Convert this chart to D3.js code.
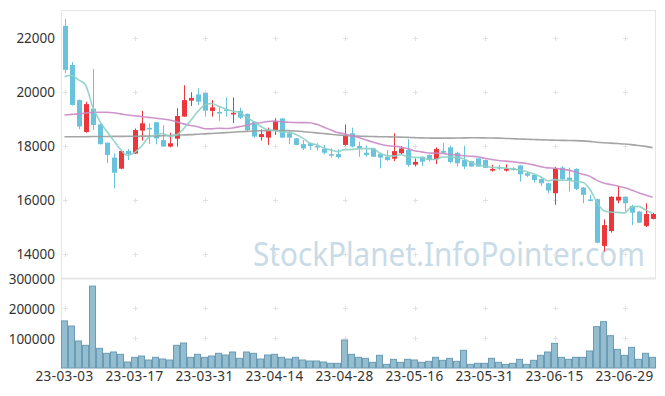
<!DOCTYPE html>
<html>
<head>
<meta charset="utf-8">
<script src="https://cdn.jsdelivr.net/npm/d3@7"></script>
<style>
  body { margin: 0; background: #fff; }
  .lbl { font-family: "Noto Sans", "DejaVu Sans", sans-serif; font-size: 13.5px; fill: #333; }
</style>
</head>
<body>
<div id="chart"></div>
<script>
// trading days, yy-mm-dd
const dates = [
  "23-03-03","23-03-06","23-03-07","23-03-08","23-03-09","23-03-10","23-03-13","23-03-14","23-03-15","23-03-16",
  "23-03-17","23-03-20","23-03-21","23-03-22","23-03-23","23-03-24","23-03-27","23-03-28","23-03-29","23-03-30",
  "23-03-31","23-04-03","23-04-04","23-04-05","23-04-06","23-04-07","23-04-10","23-04-11","23-04-12","23-04-13",
  "23-04-14","23-04-17","23-04-18","23-04-19","23-04-20","23-04-21","23-04-24","23-04-25","23-04-26","23-04-27",
  "23-04-28","23-05-02","23-05-03","23-05-04","23-05-08","23-05-09","23-05-10","23-05-11","23-05-12","23-05-15",
  "23-05-16","23-05-17","23-05-18","23-05-19","23-05-22","23-05-23","23-05-24","23-05-25","23-05-26","23-05-30",
  "23-05-31","23-06-01","23-06-02","23-06-05","23-06-07","23-06-08","23-06-09","23-06-12","23-06-13","23-06-14",
  "23-06-15","23-06-16","23-06-19","23-06-20","23-06-21","23-06-22","23-06-23","23-06-26","23-06-27","23-06-28",
  "23-06-29","23-06-30","23-07-03","23-07-04","23-07-05"
];

const opens = [
  22450,21000,19700,18520,19380,18800,18120,17570,17160,17820,
  17720,18570,18670,18880,18220,17980,18270,19090,19680,19910,
  19960,19300,19260,19350,19170,19300,19190,18900,18330,18310,
  18570,19020,18470,18280,18070,18100,18000,17890,17700,17700,
  18040,18470,18000,17750,17910,17700,17600,17530,17730,17850,
  17310,17600,17670,17510,17820,17950,17750,17480,17440,17540,
  17480,17090,17220,17090,17170,17280,16990,16930,16780,16620,
  16250,17200,16830,17150,16460,16020,16030,14300,14850,15980,
  16120,15780,15570,15040,15300
];
const highs = [
  22700,21110,19720,19640,20850,18820,18130,17730,17830,17890,
  18650,19300,18840,18890,18770,18490,19400,20250,19990,20140,
  19980,19700,19480,19800,19800,19420,19200,18920,18620,18680,
  19030,19030,18550,18300,18220,18130,18100,18040,17910,17880,
  18800,18680,18160,18020,17930,17720,17850,18470,18000,18250,
  17540,17620,17690,17950,18120,18010,17790,18010,17450,17560,
  17500,17300,17300,17320,17220,17300,17050,16950,16800,16640,
  17230,17260,17200,17170,16480,16190,16050,15280,16140,16520,
  16140,15820,15590,15880,15530
];
const lows = [
  20700,19500,18620,18490,18590,18050,17360,16430,17140,17480,
  17700,18200,18070,18060,17970,17950,17980,19080,19480,19520,
  19090,19090,18930,19090,18850,19000,18530,18300,18200,18040,
  18410,18300,18070,18030,17850,17850,17830,17690,17570,17530,
  18010,17950,17600,17600,17590,17170,17450,17440,17700,17230,
  17240,17260,17420,17330,17740,17360,17240,17150,17230,17230,
  17180,17050,17110,17050,17080,16680,16850,16640,16520,16250,
  15820,16750,16310,16370,15880,15950,14400,14090,14790,15880,
  15570,15070,15150,15000,15280
];
const closes = [
  20820,19520,18720,19550,18780,18070,17670,17010,17815,17700,
  18590,18840,18620,18280,17980,18100,19110,19700,19780,19640,
  19310,19430,19200,19300,19230,19050,18590,18350,18440,18570,
  18930,18310,18310,18040,17910,18000,17950,17750,17660,17590,
  18370,17980,17900,17670,17600,17570,17480,17810,17910,17300,
  17410,17420,17480,17890,17750,17410,17360,17240,17240,17240,
  17190,17150,17170,17150,17110,16950,16900,16740,16620,16350,
  17170,16770,16740,16410,16190,15980,14420,15070,16120,16120,
  15880,15530,15160,15480,15480
];
const volumes = [
  157000,140000,90000,75600,273000,65500,49000,53300,45600,20000,
  35600,40000,26700,35600,30000,26700,75600,83300,35600,45600,
  35600,40000,49000,43300,53300,32200,53300,49000,30000,43300,
  45600,35600,30000,35600,26700,23300,23300,20000,15600,15600,
  93300,45600,35600,32200,18900,42200,12200,28900,18900,28900,
  26700,18900,22200,35600,25600,32200,22200,58900,12200,15600,
  15600,32200,18900,12200,15600,28900,12200,25600,42200,53300,
  82200,35600,28900,35600,35600,56700,137800,154400,107800,62200,
  42200,68900,28900,49000,35600
];
const ma5 = [
  20570,20620,20450,20260,19478,18928,18558,18216,17869,17653,
  17757,17991,18313,18406,18462,18364,18418,18634,18934,19266,
  19508,19572,19472,19376,19294,19242,19074,18904,18732,18600,
  18576,18520,18512,18432,18300,18114,18042,17930,17854,17790,
  17864,17870,17900,17902,17904,17744,17644,17626,17674,17614,
  17582,17570,17504,17500,17590,17590,17578,17530,17400,17298,
  17254,17212,17198,17180,17154,17106,17056,16970,16864,16712,
  16756,16730,16730,16688,16656,16418,15948,15614,15556,15542,
  15522,15744,15762,15634,15506
];
const ma20 = [
  19150,19170,19190,19220,19240,19250,19250,19230,19190,19150,
  19120,19090,19060,19030,19000,18960,18900,18820,18760,18715,
  18639,18635,18659,18646,18669,18718,18764,18831,18862,18906,
  18923,18896,18881,18869,18865,18860,18802,18705,18599,18496,
  18449,18377,18312,18230,18149,18075,18019,17992,17966,17902,
  17826,17782,17740,17733,17725,17695,17666,17640,17619,17602,
  17543,17501,17465,17439,17414,17383,17354,17301,17236,17189,
  17177,17144,17107,17033,16955,16884,16737,16628,16572,16516,
  16451,16371,16270,16187,16105
];
const ma60 = [
  18340,18340,18345,18345,18350,18350,18350,18355,18355,18360,
  18360,18365,18365,18370,18380,18390,18400,18410,18420,18435,
  18450,18465,18480,18495,18510,18525,18540,18555,18565,18570,
  18575,18575,18570,18555,18535,18510,18485,18460,18435,18410,
  18390,18375,18365,18355,18350,18345,18340,18335,18330,18320,
  18310,18300,18295,18290,18290,18290,18295,18300,18305,18305,
  18300,18295,18290,18280,18270,18260,18250,18240,18230,18220,
  18215,18210,18205,18200,18190,18170,18140,18120,18105,18090,
  18075,18050,18020,17985,17940
];
const priceTicks = [14000, 16000, 18000, 20000, 22000];
const volumeTicks = [100000, 200000, 300000];
const dateTicks = dates.filter((d, i) => i % 10 === 0);

const WIDTH = 665;
const HEIGHT = 396;
const PLOT = {left: 61, right: 656, top: 10, mid: 278, bottom: 368};

const UP = "#eb373c";
const DOWN = "#69c3dc";

const svg = d3.select("#chart")
  .append("svg")
    .attr("width", WIDTH)
    .attr("height", HEIGHT);

const X = d3.scaleBand()
  .domain(dates)
  .range([PLOT.left, PLOT.right]);
const cx = (d) => X(d) + X.bandwidth() / 2;

const Y = d3.scaleLinear()
  .domain([13111, 23037])
  .range([PLOT.mid, PLOT.top]);

const YV = d3.scaleLinear()
  .domain([0, 300000])
  .range([PLOT.bottom, PLOT.mid]);

// watermark
svg.append("text")
  .attr("x", 253)
  .attr("y", 266)
  .attr("textLength", 392)
  .attr("lengthAdjust", "spacingAndGlyphs")
  .attr("font-family", "'Noto Sans', sans-serif")
  .attr("font-size", 33)
  .attr("fill", "#c8dbe6")
  .text("StockPlanet.InfoPointer.com");

// frame
const frame = svg.append("g").attr("stroke", "#e6e6e6").attr("fill", "none");
frame.append("line").attr("x1", PLOT.left).attr("x2", 655).attr("y1", PLOT.top + 0.5).attr("y2", PLOT.top + 0.5);
frame.append("line").attr("x1", PLOT.left + 0.5).attr("x2", PLOT.left + 0.5).attr("y1", PLOT.top).attr("y2", PLOT.bottom);
frame.append("line").attr("x1", 655.5).attr("x2", 655.5).attr("y1", PLOT.top).attr("y2", PLOT.mid);
frame.append("line").attr("x1", PLOT.left).attr("x2", 656).attr("y1", PLOT.mid + 0.5).attr("y2", PLOT.mid + 0.5)
  .attr("stroke-width", 2);

// grid crosses
const crossY = priceTicks.map((t) => Y(t)).concat(volumeTicks.slice(0, 2).map((t) => YV(t)));
const crosses = [];
dateTicks.forEach((d) => crossY.forEach((y) => crosses.push([Math.round(cx(d)) + 0.5, Math.round(y) + 0.5])));
svg.append("g").selectAll("path")
  .data(crosses)
  .enter().append("path")
    .attr("d", (p) => "M" + (p[0] - 2.5) + "," + p[1] + "h5M" + p[0] + "," + (p[1] - 2.5) + "v5")
    .attr("stroke", "#e2e2e2")
    .attr("stroke-width", 1);

// candles
const candles = svg.append("g").selectAll("g")
  .data(dates)
  .enter().append("g");
candles.append("line")
  .attr("x1", (d) => Math.round(cx(d)) + 0.5)
  .attr("x2", (d) => Math.round(cx(d)) + 0.5)
  .attr("y1", (d, i) => Y(highs[i]))
  .attr("y2", (d, i) => Y(lows[i]))
  .attr("stroke", (d, i) => closes[i] >= opens[i] ? UP : DOWN)
  .attr("stroke-width", 1);
candles.append("rect")
  .attr("x", (d) => Math.round(cx(d)) - 2)
  .attr("width", 5)
  .attr("y", (d, i) => Y(Math.max(opens[i], closes[i])))
  .attr("height", (d, i) => Math.max(1.5, Math.abs(Y(opens[i]) - Y(closes[i]))))
  .attr("fill", (d, i) => closes[i] >= opens[i] ? UP : DOWN);

// moving averages
const maLine = (vals) => d3.line()
  .x((d, i) => cx(dates[i]))
  .y((d) => Y(d))
  .curve(d3.curveMonotoneX)(vals);
[[ma60, "#9b9b9b"], [ma20, "#c98ac6"], [ma5, "#8ccfc3"]].forEach((m) => {
  svg.append("path")
    .attr("d", maLine(m[0]))
    .attr("fill", "none")
    .attr("stroke", m[1])
    .attr("stroke-width", 1.6)
    .attr("stroke-opacity", 0.9);
});

// volume
svg.append("g").selectAll("rect")
  .data(dates)
  .enter().append("rect")
    .attr("x", (d) => X(d) + 0.5)
    .attr("width", X.bandwidth() - 1)
    .attr("y", (d, i) => YV(volumes[i]))
    .attr("height", (d, i) => YV(0) - YV(volumes[i]))
    .attr("fill", "#95bdd0")
    .attr("stroke", "#6c9cb5")
    .attr("stroke-width", 1);

// axes
svg.append("g")
  .attr("transform", "translate(" + 55 + ",0)")
  .call(d3.axisLeft(Y).tickValues(priceTicks).tickSize(0).tickPadding(0).tickFormat(d3.format("d")))
  .call((g) => g.select(".domain").remove())
  .selectAll("text").attr("class", "lbl").attr("font-size", null).attr("font-family", null);

svg.append("g")
  .attr("transform", "translate(" + 55 + ",1)")
  .call(d3.axisLeft(YV).tickValues(volumeTicks).tickSize(0).tickPadding(0).tickFormat(d3.format("d")))
  .call((g) => g.select(".domain").remove())
  .selectAll("text").attr("class", "lbl").attr("font-size", null).attr("font-family", null);

svg.append("g")
  .attr("transform", "translate(0," + 370 + ")")
  .call(d3.axisBottom(X).tickValues(dateTicks).tickSize(0).tickPadding(0))
  .call((g) => g.select(".domain").remove())
  .selectAll("text").attr("class", "lbl").attr("font-size", null).attr("font-family", null)
    .attr("dy", "0.85em").attr("letter-spacing", "0.4px");
</script>
</body>
</html>
